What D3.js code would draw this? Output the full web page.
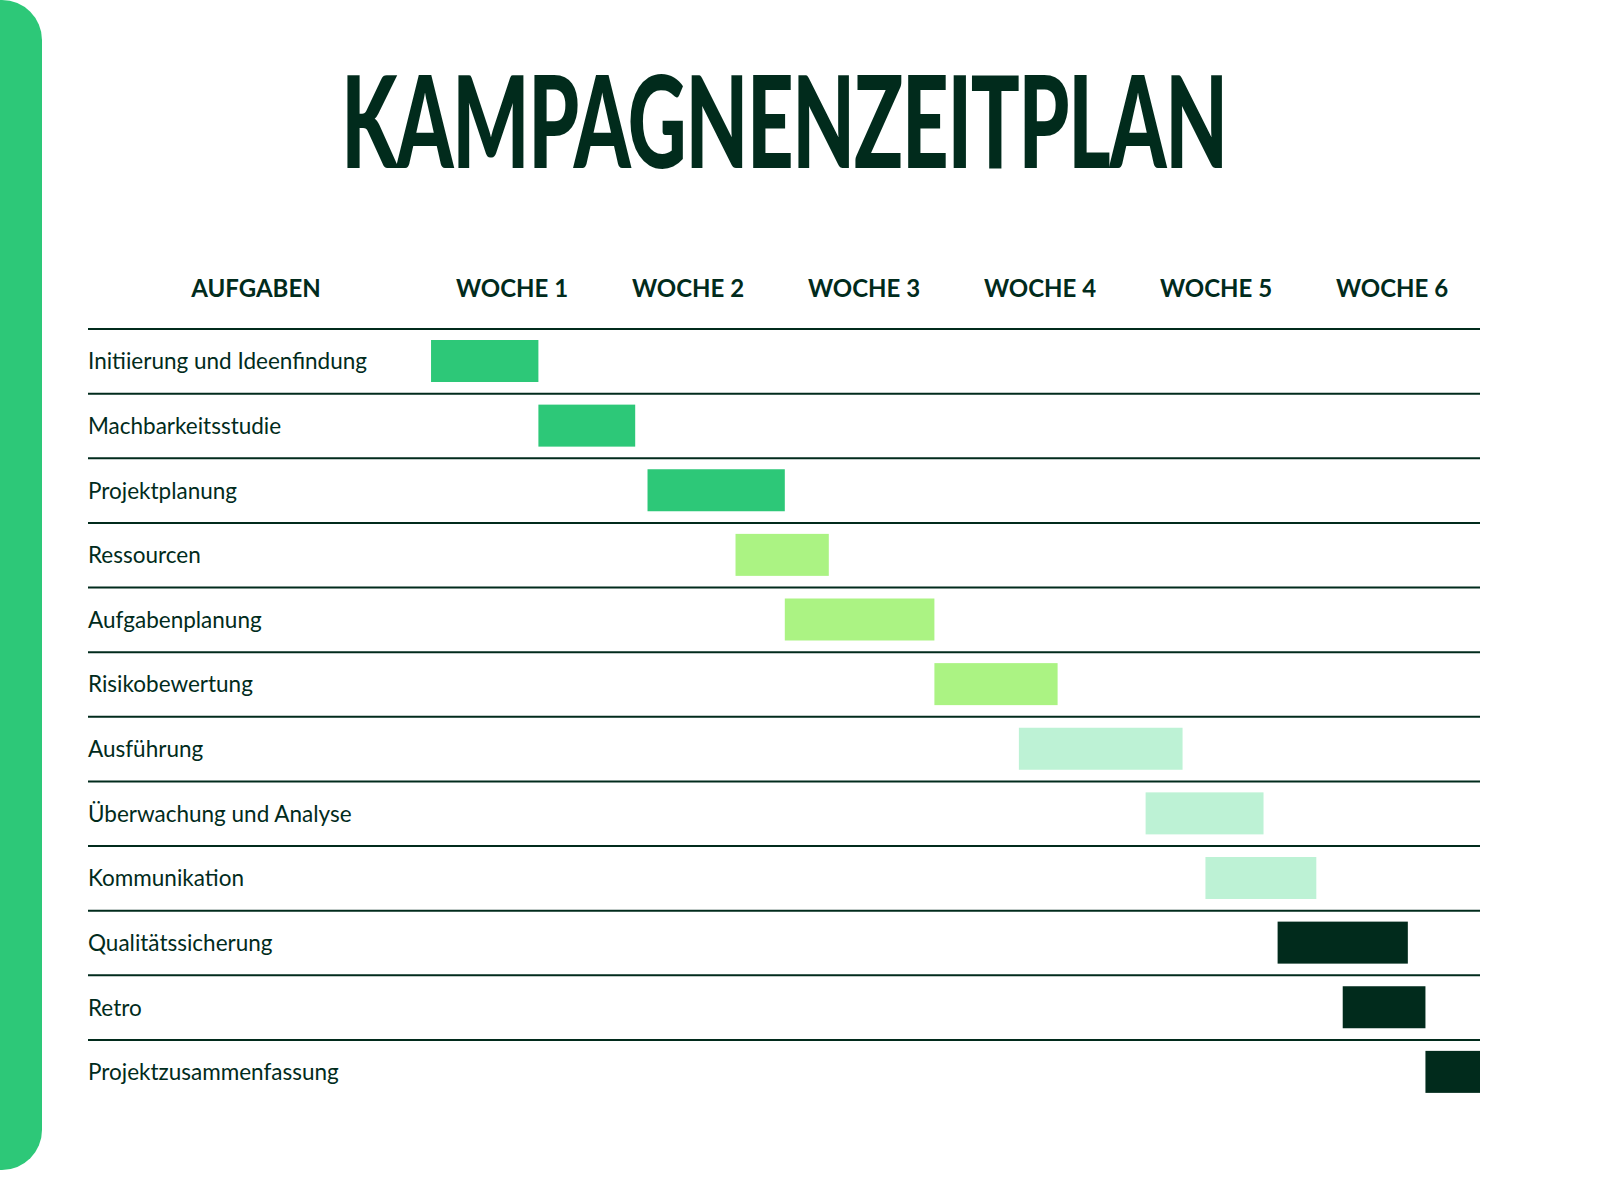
<!DOCTYPE html>
<html><head><meta charset="utf-8">
<script src="https://cdn.jsdelivr.net/npm/d3@7"></script>
<style>body{margin:0;background:#fff}</style></head>
<body><svg id="c" width="1600" height="1200"></svg>
<script>
const tasks=["Initiierung und Ideenfindung","Machbarkeitsstudie","Projektplanung","Ressourcen","Aufgabenplanung","Risikobewertung","Ausführung","Überwachung und Analyse","Kommunikation","Qualitätssicherung","Retro","Projektzusammenfassung"];
const starts=[0.04,0.65,1.27,1.77,2.05,2.90,3.38,4.10,4.44,4.85,5.22,5.69];
const ends=[0.65,1.20,2.05,2.30,2.90,3.60,4.31,4.77,5.07,5.59,5.69,6.0];
const groups=[0,0,0,1,1,1,2,2,2,3,3,3];
const weeks=["WOCHE 1","WOCHE 2","WOCHE 3","WOCHE 4","WOCHE 5","WOCHE 6"];
const colors=["#2dc878","#abf383","#bdf2d5","#012b1c"];
const svg=d3.select("#c");
const dark="#012b1c";
svg.append("path").attr("d","M0,0 H2 A40,40 0 0 1 42,40 V1130 A40,40 0 0 1 2,1170 H0 Z").attr("fill","#2dc878");
svg.append("text").attr("x",0).attr("y",0).attr("text-anchor","middle")
 .attr("font-family","Lato, sans-serif").attr("font-weight","900")
 .attr("font-size",128).attr("fill",dark).attr("letter-spacing",-2)
 .attr("transform","translate(784,168) scale(0.635,1)").text("KAMPAGNENZEITPLAN");
const x=d3.scaleLinear().domain([0,6]).range([424,1480]);
const y=d3.scaleBand().domain(tasks).range([329,1104.5]);
const f="Lato, Open Sans, sans-serif";
svg.append("text").attr("x",256).attr("y",297).attr("text-anchor","middle").attr("font-family",f).attr("font-weight","bold").attr("font-size",24).attr("fill",dark).text("AUFGABEN");
svg.selectAll(".wk").data(weeks).join("text").attr("x",(d,i)=>x(i+0.5)).attr("y",297).attr("text-anchor","middle").attr("font-family",f).attr("font-weight","bold").attr("font-size",24).attr("fill",dark).text(d=>d);
svg.selectAll(".ln").data(tasks).join("line").attr("x1",88).attr("x2",1480).attr("y1",d=>y(d)).attr("y2",d=>y(d)).attr("stroke",dark).attr("stroke-width",2);
svg.selectAll(".lb").data(tasks).join("text").attr("x",88).attr("y",d=>y(d)+y.bandwidth()/2+8).attr("font-family",f).attr("font-size",22.5).attr("fill",dark).text(d=>d);
svg.selectAll(".bar").data(tasks).join("rect").attr("x",(d,i)=>x(starts[i])).attr("width",(d,i)=>x(ends[i])-x(starts[i]))
 .attr("y",d=>y(d)+11).attr("height",42).attr("fill",(d,i)=>colors[groups[i]]);
</script></body></html>
